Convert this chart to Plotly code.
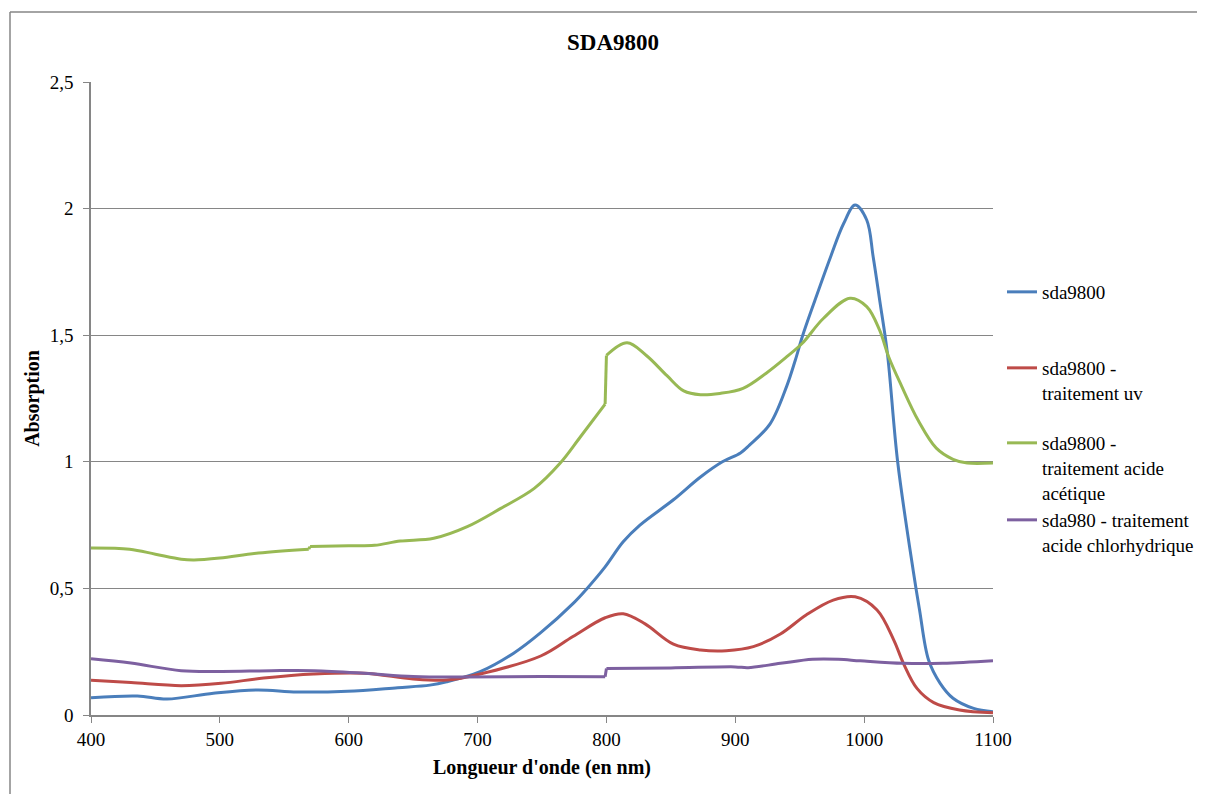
import plotly.graph_objects as go

# ---------------- data ----------------
blue_x = [400, 436, 459, 495, 529, 560, 599, 638, 663, 676, 702, 728, 749, 774, 785, 799, 813, 826,
          852, 873, 890, 904, 911, 927, 940, 946.5, 952, 961, 974, 984, 993, 1002, 1007, 1012, 1018,
          1026, 1038, 1043, 1050, 1059, 1069, 1085, 1100]
blue_y = [0.068, 0.075, 0.063, 0.086, 0.099, 0.091, 0.094, 0.108, 0.118, 0.131, 0.171, 0.244, 0.325,
          0.44, 0.50, 0.585, 0.684, 0.75, 0.85, 0.94, 1.0, 1.035, 1.066, 1.15, 1.30, 1.40, 1.494,
          1.626, 1.81, 1.94, 2.014, 1.955, 1.81, 1.64, 1.43, 1.0, 0.573, 0.415, 0.217, 0.125, 0.066,
          0.026, 0.013]

red_x = [400, 431, 470, 501, 534, 573, 612, 650, 676, 702, 749, 774, 799, 813, 830, 852, 873, 893,
         914, 935, 955, 976, 993, 1010, 1023, 1030.5, 1041, 1054, 1074, 1100]
red_y = [0.137, 0.128, 0.116, 0.125, 0.146, 0.162, 0.165, 0.142, 0.138, 0.162, 0.233, 0.31, 0.384,
         0.40, 0.36, 0.28, 0.257, 0.254, 0.27, 0.32, 0.395, 0.454, 0.467, 0.415, 0.296, 0.204, 0.105,
         0.049, 0.02, 0.009]

green_x = [400, 430, 450, 470, 480, 500, 530, 569, 570, 600, 620, 640, 666, 692, 718, 744, 764, 780,
           799, 800, 816, 831, 847, 860, 873, 888, 906, 924, 940, 952, 968.5, 989, 1002, 1012, 1019,
           1029, 1042, 1056, 1069, 1080, 1100]
green_y = [0.66, 0.655, 0.635, 0.615, 0.612, 0.62, 0.64, 0.655, 0.665, 0.668, 0.67, 0.687, 0.698,
           0.744, 0.816, 0.895, 0.994, 1.10, 1.228, 1.42, 1.47, 1.42, 1.34, 1.28, 1.265, 1.27, 1.29,
           1.35, 1.415, 1.468, 1.567, 1.646, 1.613, 1.52, 1.415, 1.30, 1.163, 1.054, 1.01, 0.995, 0.995]

purple_x = [400, 431, 470, 501, 540, 573, 612, 650, 689, 749, 799, 800, 850, 900, 910, 935, 960, 980,
            997, 1030, 1061, 1100]
purple_y = [0.222, 0.205, 0.175, 0.172, 0.175, 0.175, 0.165, 0.152, 0.15, 0.152, 0.151, 0.184, 0.186,
            0.19, 0.187, 0.204, 0.22, 0.22, 0.214, 0.204, 0.204, 0.214]

# wavelengths where the instrument changes detector (vertical steps in the data)
step_wavelengths = [570, 800]

series_names = ["sda9800",
                "sda9800 -<br>traitement uv",
                "sda9800 -<br>traitement acide<br>acétique",
                "sda980 - traitement<br>acide chlorhydrique"]
series_colors = ["#4A7EBB", "#BE4B48", "#98B954", "#7D60A0"]

title_text = "SDA9800"
x_title = "Longueur d'onde (en nm)"
y_title = "Absorption"
x_ticks = [400, 500, 600, 700, 800, 900, 1000, 1100]
y_ticks = [0, 0.5, 1, 1.5, 2, 2.5]

# ---------------- figure ----------------
FONT = "Liberation Serif"
OFF = 8  # default page body margin
W, H = 1205 - OFF, 794 - OFF
ml, mt = 91 - OFF, 82 - OFF
mr = W - (993 - OFF)
mb = H - (715 - OFF)


def ypaper(py):  # py in page pixels
    return (H - mb - (py - OFF)) / (H - mt - mb)


def xpaper(px):
    return ((px - OFF) - ml) / (W - ml - mr)


fig = go.Figure()


def add_series(xs, ys, name, color, legend):
    # split at vertical steps: smooth pieces, straight step segments
    cuts = [i for i in range(1, len(xs)) if xs[i] in step_wavelengths and xs[i] - xs[i - 1] <= 1.5]
    bounds = [0] + cuts + [len(xs)]
    first = True
    for k in range(len(bounds) - 1):
        a, b = bounds[k], bounds[k + 1]
        fig.add_trace(go.Scatter(x=xs[a:b], y=ys[a:b], mode="lines", name=name,
                                 showlegend=first, legend=legend, legendgroup=name,
                                 line=dict(color=color, width=3, shape="spline", smoothing=1.0)))
        first = False
        if b < len(xs):
            fig.add_trace(go.Scatter(x=xs[b - 1:b + 1], y=ys[b - 1:b + 1], mode="lines", name=name,
                                     showlegend=False, legend=legend, legendgroup=name,
                                     line=dict(color=color, width=3)))


data = [(blue_x, blue_y), (red_x, red_y), (green_x, green_y), (purple_x, purple_y)]
legend_ids = ["legend", "legend2", "legend3", "legend4"]
for (xs, ys), name, col, lg in zip(data, series_names, series_colors, legend_ids):
    add_series(xs, ys, name, col, lg)

legend_centers = [292, 368, 443, 520]
common_leg = dict(font=dict(family=FONT, size=19, color="#000000"), bgcolor="rgba(0,0,0,0)",
                  xanchor="left", yanchor="top", valign="top", itemwidth=30, tracegroupgap=0,
                  visible=True)
layout_legends = {}
for lg, c in zip(legend_ids, legend_centers):
    layout_legends[lg] = dict(common_leg, x=xpaper(1002), y=ypaper(c - 19))

fig.update_layout(
    width=W, height=H,
    margin=dict(l=ml, r=mr, t=mt, b=mb, autoexpand=False),
    paper_bgcolor="white", plot_bgcolor="white",
    separators=", ",
    showlegend=True,
    font=dict(family=FONT, size=19, color="#000000"),
    title=dict(text="<b>" + title_text + "</b>", xref="container", x=(613 - OFF) / W,
               xanchor="center", yref="container", y=1 - (42 - OFF) / H, yanchor="middle",
               font=dict(family=FONT, size=23)),
    xaxis=dict(range=[400, 1100], tickvals=x_ticks, showgrid=False, zeroline=False,
               showline=True, linecolor="#868686", linewidth=1.5,
               ticks="outside", ticklen=6, tickcolor="#868686",
               tickfont=dict(family=FONT, size=19),
               title=dict(text="<b>" + x_title + "</b>", font=dict(family=FONT, size=20), standoff=11)),
    yaxis=dict(range=[0, 2.5], tickvals=y_ticks, showgrid=True, gridcolor="#868686", gridwidth=1,
               zeroline=False, showline=True, linecolor="#868686", linewidth=1.5,
               ticks="outside", ticklen=6, tickcolor="#868686", ticklabelstandoff=6,
               tickfont=dict(family=FONT, size=19),
               title=dict(text="<b>" + y_title + "</b>", font=dict(family=FONT, size=20), standoff=5)),
    **layout_legends,
)

# outer chart border (left and top edges)
fig.add_shape(type="line", xref="paper", yref="paper", x0=xpaper(10), x1=xpaper(1220),
              y0=ypaper(12), y1=ypaper(12), line=dict(color="#868686", width=1.5))
fig.add_shape(type="line", xref="paper", yref="paper", x0=xpaper(10), x1=xpaper(10),
              y0=ypaper(12), y1=ypaper(810), line=dict(color="#868686", width=1.5))

fig.write_html("out.html")
